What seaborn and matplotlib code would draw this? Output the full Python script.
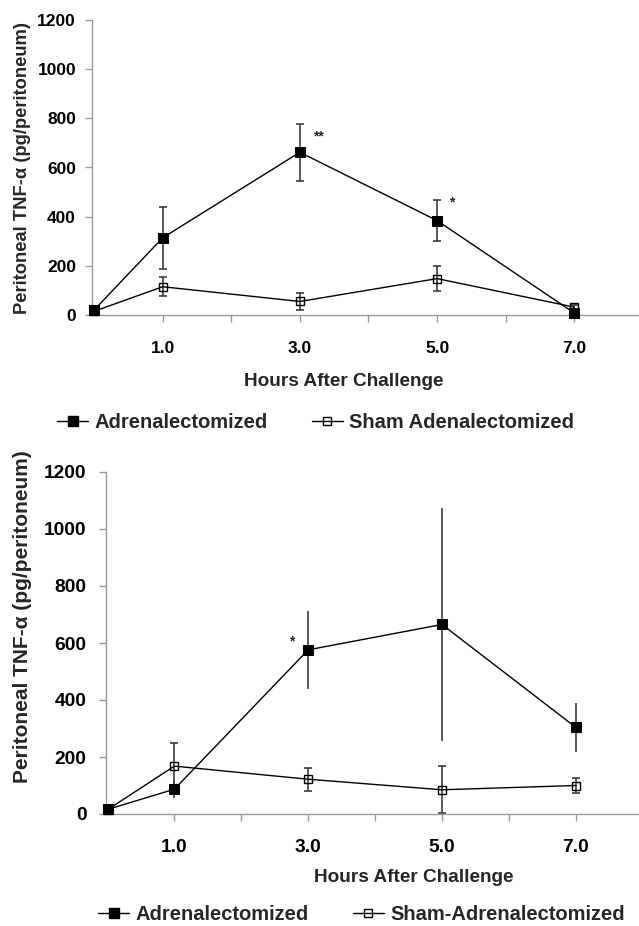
import matplotlib
matplotlib.use("Agg")
import matplotlib.pyplot as plt
import seaborn as sns
import pandas as pd
from matplotlib.lines import Line2D

# ---------------- data ----------------
hours = [0, 1, 3, 5, 7]
tick_hours = [1, 3, 5, 7]
tick_labels = ["1.0", "3.0", "5.0", "7.0"]
y_ticks = [0, 200, 400, 600, 800, 1000, 1200]

top_adx = [20, 314, 662, 384, 8]
top_adx_err = [0, 126, 115, 82, 0]
top_sham = [15, 115, 55, 148, 32]
top_sham_err = [0, 38, 35, 52, 10]

bot_adx = [16, 87, 576, 665, 304]
bot_adx_err = [0, 30, 136, 408, 85]
bot_sham = [15, 168, 122, 85, 100]
bot_sham_err = [0, 82, 40, 83, 28]

top_labels = ["Adrenalectomized", "Sham Adenalectomized"]
bot_labels = ["Adrenalectomized", "Sham-Adrenalectomized"]
y_label = "Peritoneal TNF-\u03b1 (pg/peritoneum)"
x_label = "Hours After Challenge"

# ---------------- style ----------------
sns.set_style("white")
plt.rcParams["font.family"] = ["Liberation Sans", "DejaVu Sans"]
plt.rcParams["font.weight"] = "bold"

W, H = 639, 926
fig = plt.figure(figsize=(W / 100, H / 100), dpi=100)

AX_GRAY = "#9a9a9a"
ERR_GRAY = "#3c3c3c"


def px_axes(left, right, top, bottom):
    return fig.add_axes([left / W, 1 - bottom / H, (right - left) / W, (bottom - top) / H])


def draw_panel(ax, adx, adx_err, sham, sham_err, adx_caps, tick_fs, ypad, xpad):
    df = pd.DataFrame({"hours": hours, "adx": adx, "sham": sham})
    # error bars (only where an error was drawn)
    for vals, errs, caps in ((adx, adx_err, adx_caps), (sham, sham_err, True)):
        xs = [h for h, e in zip(hours, errs) if e > 0]
        ys = [v for v, e in zip(vals, errs) if e > 0]
        es = [e for e in errs if e > 0]
        ax.errorbar(xs, ys, yerr=es, fmt="none", ecolor=ERR_GRAY, elinewidth=1.2,
                    capsize=3.2 if caps else 0, capthick=1.2, zorder=2, clip_on=False)
    sns.lineplot(data=df, x="hours", y="sham", ax=ax, color="black", linewidth=1.0,
                 marker="s", markersize=6, markerfacecolor="none", markeredgecolor="black",
                 markeredgewidth=1.0, zorder=3, clip_on=False)
    sns.lineplot(data=df, x="hours", y="adx", ax=ax, color="black", linewidth=1.0,
                 marker="s", markersize=6.5, markerfacecolor="black", markeredgecolor="black",
                 zorder=4, clip_on=False)
    ax.set_xlim(-0.03, 8)
    ax.set_ylim(0, 1200)
    ax.set_yticks(y_ticks)
    ax.set_yticklabels([str(v) for v in y_ticks], fontsize=tick_fs, fontweight="bold")
    ax.set_xticks(range(1, 8))
    ax.set_xticklabels([tick_labels[tick_hours.index(h)] if h in tick_hours else ""
                        for h in range(1, 8)], fontsize=tick_fs, fontweight="bold")
    for s in ("top", "right"):
        ax.spines[s].set_visible(False)
    for s in ("left", "bottom"):
        ax.spines[s].set_color(AX_GRAY)
        ax.spines[s].set_linewidth(1.0)
    ax.tick_params(axis="both", which="both", length=5, width=1.0, color=AX_GRAY,
                   labelcolor="black")
    ax.tick_params(axis="y", pad=ypad, left=True)
    ax.tick_params(axis="x", pad=xpad, bottom=True)
    ax.legend().remove() if ax.get_legend() else None


# ---------------- top panel ----------------
ax1 = px_axes(92, 642.9, 20, 315)
draw_panel(ax1, top_adx, top_adx_err, top_sham, top_sham_err, True, 12.5, 6.5, 13.5)
ax1.set_ylabel(y_label, fontsize=13.2, fontweight="bold")
ax1.yaxis.set_label_coords(-0.127, 0.498)
ax1.yaxis.label.set_va("center")
ax1.set_xlabel(x_label, fontsize=13.7, fontweight="bold")
ax1.xaxis.set_label_coords(0.4574, -0.227)
ax1.xaxis.label.set_va("center")
ax1.text(3.27, 728, "**", fontsize=10, fontweight="bold", ha="center", va="center")
ax1.text(5.22, 456, "*", fontsize=10, fontweight="bold", ha="center", va="center")

# ---------------- bottom panel ----------------
ax2 = px_axes(105.5, 642.7, 472, 814)
draw_panel(ax2, bot_adx, bot_adx_err, bot_sham, bot_sham_err, False, 13.8, 8.6, 13)
ax2.set_ylabel(y_label, fontsize=15, fontweight="bold")
ax2.yaxis.set_label_coords(-0.155, 0.577)
ax2.yaxis.label.set_va("center")
ax2.set_xlabel(x_label, fontsize=13.7, fontweight="bold")
ax2.xaxis.set_label_coords(0.574, -0.187)
ax2.xaxis.label.set_va("center")
ax2.text(2.76, 604, "*", fontsize=10, fontweight="bold", ha="center", va="center")


# ---------------- legends ----------------
def handles():
    h1 = Line2D([], [], color="black", linewidth=1.0, marker="s", markersize=6.5,
                markerfacecolor="black", markeredgecolor="black")
    h2 = Line2D([], [], color="black", linewidth=1.0, marker="s", markersize=6,
                markerfacecolor="none", markeredgecolor="black")
    return [h1, h2]


fig.legend(handles(), top_labels, loc="center left", bbox_to_anchor=(57 / W, 1 - 423 / H),
           ncol=2, frameon=False, borderpad=0, borderaxespad=0, handlelength=1.55,
           handletextpad=0.3, columnspacing=2.2, prop={"size": 14.5, "weight": "bold"})
fig.legend(handles(), bot_labels, loc="center left", bbox_to_anchor=(98 / W, 1 - 915 / H),
           ncol=2, frameon=False, borderpad=0, borderaxespad=0, handlelength=1.55,
           handletextpad=0.3, columnspacing=2.2, prop={"size": 14.5, "weight": "bold"})

fig.savefig("out.png", dpi=100, facecolor="white")
